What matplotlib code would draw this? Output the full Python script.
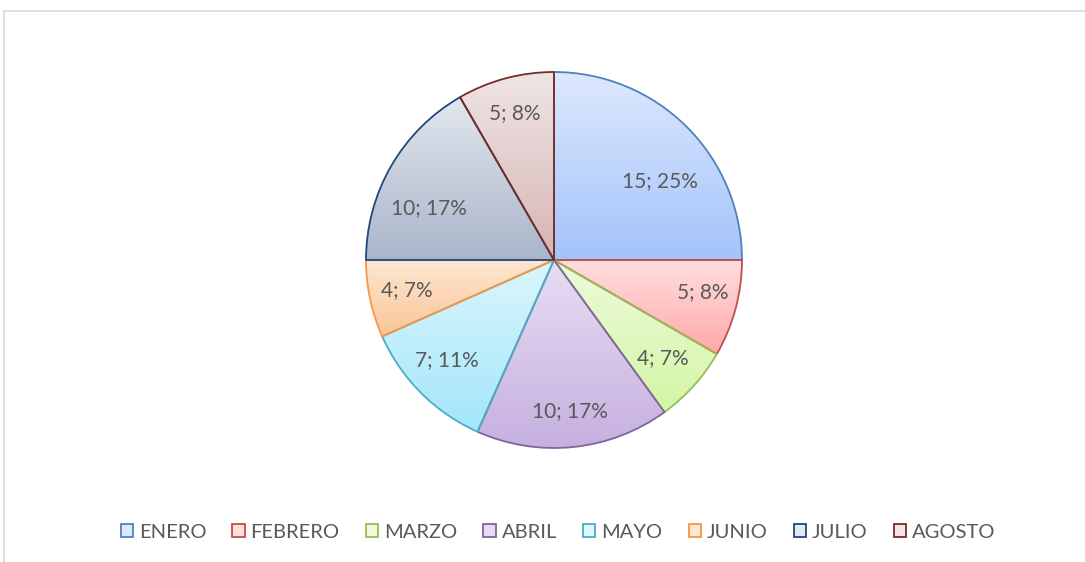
import numpy as np
import matplotlib
matplotlib.use("Agg")
import matplotlib.pyplot as plt
from matplotlib.patches import Patch
from matplotlib.lines import Line2D
from matplotlib.colors import LinearSegmentedColormap

categories = ["ENERO", "FEBRERO", "MARZO", "ABRIL", "MAYO", "JUNIO", "JULIO", "AGOSTO"]
values = [15, 5, 4, 10, 7, 4, 10, 5]
pct_labels = ["25%", "8%", "7%", "17%", "11%", "7%", "17%", "8%"]

top_colors = ["#dde8fd", "#ffdede", "#eefadc", "#e7ddf3", "#dbf6fd", "#fde7d2", "#e3e7ee", "#efe5e5"]
bottom_colors = ["#a3c3fa", "#ffa8a8", "#d3f6a4", "#c6b0e0", "#a2e6fa", "#fbc598", "#a9b5ca", "#d7b5b4"]
edge_colors = ["#4f81bd", "#c0504d", "#9bbb59", "#8064a2", "#4bacc6", "#f79646", "#1f497d", "#772c2a"]
# label placement tweaks (style): radial distance and angle shift from each wedge's mid-angle
label_radius = [0.70, 0.81, 0.78, 0.81, 0.78, 0.80, 0.72, 0.81]
label_dangle = [-8.3, 3.0, 0.0, 0.0, -2.0, -0.5, 7.6, 0.0]

plt.rcParams['font.family'] = ['Lato', 'DejaVu Sans']

W, H = 1085, 562
fig = plt.figure(figsize=(W / 100, H / 100), dpi=100)

# outer chart frame
fig.add_artist(Line2D([4 / W, 1], [1 - 11 / H, 1 - 11 / H], color="#d9d9d9", lw=1.2, transform=fig.transFigure))
fig.add_artist(Line2D([4 / W, 4 / W], [0, 1 - 11 / H], color="#d9d9d9", lw=1.2, transform=fig.transFigure))

cx, cy, R = 554, 260, 188
ax = fig.add_axes([(cx - R) / W, (H - cy - R) / H, 2 * R / W, 2 * R / H])

wedges, texts = ax.pie(values, startangle=90, counterclock=False, radius=1,
                       colors=["none"] * len(values),
                       wedgeprops=dict(linewidth=1.3, joinstyle="round"),
                       labels=[f"{v}; {p}" for v, p in zip(values, pct_labels)],
                       labeldistance=0.79,
                       textprops=dict(color="#595959", fontsize=15, ha="center", va="center"))

for i, w in enumerate(wedges):
    w.set_edgecolor(edge_colors[i])
    w.set_facecolor("none")
    w.set_zorder(3)
    t1, t2 = w.theta1, w.theta2
    ang = np.radians(np.linspace(t1, t2, 200))
    ys = np.concatenate([[0], np.sin(ang)])
    xs = np.concatenate([[0], np.cos(ang)])
    ymin, ymax = ys.min(), ys.max()
    xmin, xmax = xs.min(), xs.max()
    cmap = LinearSegmentedColormap.from_list(f"g{i}", [bottom_colors[i], top_colors[i]])
    grad = np.linspace(0, 1, 256).reshape(-1, 1)
    im = ax.imshow(grad, cmap=cmap, origin="lower", aspect="auto",
                   extent=[xmin, xmax, ymin, ymax], zorder=2, interpolation="bicubic")
    im.set_clip_path(w)
    mid = np.radians((t1 + t2) / 2 + label_dangle[i])
    texts[i].set_position((label_radius[i] * np.cos(mid), label_radius[i] * np.sin(mid)))
    texts[i].set_ha("center")
    texts[i].set_va("center")
    texts[i].set_zorder(5)

ax.set_xlim(-1.0, 1.0)
ax.set_ylim(-1.0, 1.0)
ax.set_aspect("auto")
ax.axis("off")

handles = [Patch(facecolor=top_colors[i], edgecolor=edge_colors[i], linewidth=1.3, label=categories[i])
           for i in range(len(categories))]
fig.legend(handles=handles, loc="center", bbox_to_anchor=(558 / W, 1 - 532 / H), ncol=len(categories),
           frameon=False, fontsize=14.5, labelcolor="#595959", handlelength=0.6, handleheight=0.6,
           handletextpad=0.3, columnspacing=1.3)

fig.savefig("out.png", dpi=100, facecolor="white")
